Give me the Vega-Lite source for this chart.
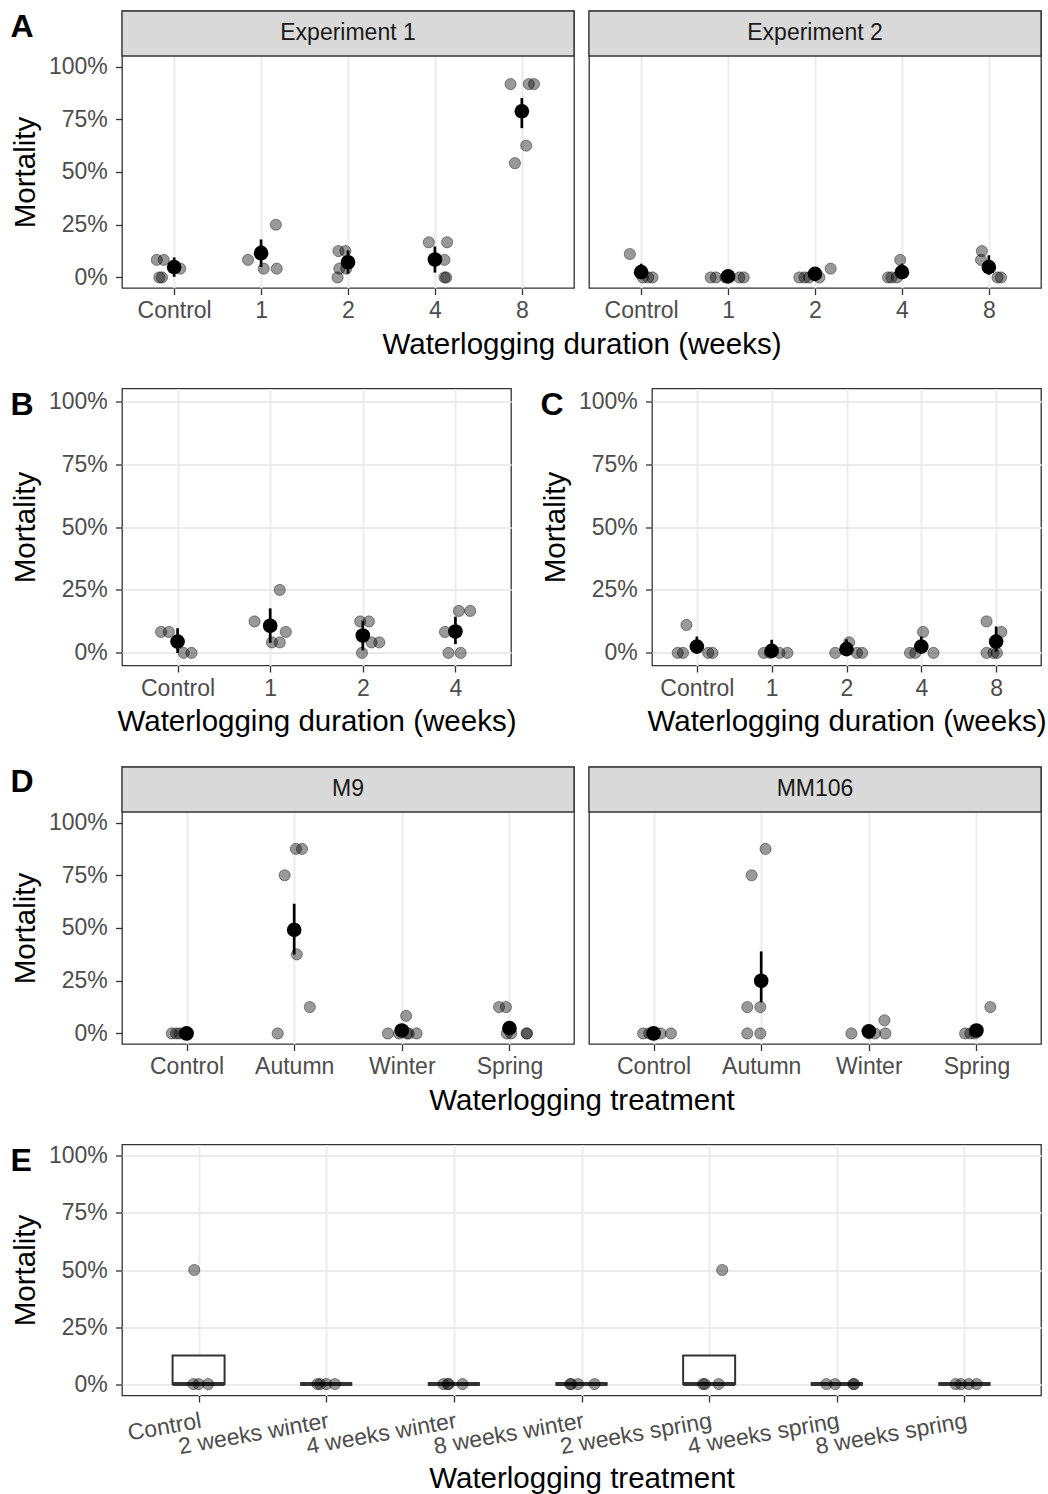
{
"$schema": "https://vega.github.io/schema/vega-lite/v6.json",
"background": "white",
"padding": {"left": 9, "top": 9, "right": 5, "bottom": 0},
"spacing": 26.5,
"datasets": {
"a_pts": [
{"exp":"Experiment 1","dur":"Control","jit":-0.20,"mort":8.33},
{"exp":"Experiment 1","dur":"Control","jit":-0.12,"mort":8.33},
{"exp":"Experiment 1","dur":"Control","jit":-0.17,"mort":0},
{"exp":"Experiment 1","dur":"Control","jit":-0.14,"mort":0},
{"exp":"Experiment 1","dur":"Control","jit":0.07,"mort":4.17},
{"exp":"Experiment 1","dur":"1","jit":-0.15,"mort":8.33},
{"exp":"Experiment 1","dur":"1","jit":0.0,"mort":12.5},
{"exp":"Experiment 1","dur":"1","jit":0.17,"mort":25},
{"exp":"Experiment 1","dur":"1","jit":0.03,"mort":4.17},
{"exp":"Experiment 1","dur":"1","jit":0.18,"mort":4.17},
{"exp":"Experiment 1","dur":"2","jit":-0.11,"mort":12.5},
{"exp":"Experiment 1","dur":"2","jit":-0.03,"mort":12.5},
{"exp":"Experiment 1","dur":"2","jit":-0.10,"mort":4.17},
{"exp":"Experiment 1","dur":"2","jit":-0.02,"mort":4.17},
{"exp":"Experiment 1","dur":"2","jit":-0.12,"mort":0},
{"exp":"Experiment 1","dur":"4","jit":-0.07,"mort":16.67},
{"exp":"Experiment 1","dur":"4","jit":0.14,"mort":16.67},
{"exp":"Experiment 1","dur":"4","jit":0.11,"mort":8.33},
{"exp":"Experiment 1","dur":"4","jit":0.11,"mort":0},
{"exp":"Experiment 1","dur":"4","jit":0.13,"mort":0},
{"exp":"Experiment 1","dur":"8","jit":-0.13,"mort":91.67},
{"exp":"Experiment 1","dur":"8","jit":0.08,"mort":91.67},
{"exp":"Experiment 1","dur":"8","jit":0.14,"mort":91.67},
{"exp":"Experiment 1","dur":"8","jit":0.05,"mort":62.5},
{"exp":"Experiment 1","dur":"8","jit":-0.08,"mort":54.17},
{"exp":"Experiment 2","dur":"Control","jit":-0.13,"mort":11.11},
{"exp":"Experiment 2","dur":"Control","jit":0.02,"mort":0},
{"exp":"Experiment 2","dur":"Control","jit":0.08,"mort":0},
{"exp":"Experiment 2","dur":"Control","jit":0.13,"mort":0},
{"exp":"Experiment 2","dur":"1","jit":-0.20,"mort":0},
{"exp":"Experiment 2","dur":"1","jit":-0.14,"mort":0},
{"exp":"Experiment 2","dur":"1","jit":-0.03,"mort":0},
{"exp":"Experiment 2","dur":"1","jit":0.13,"mort":0},
{"exp":"Experiment 2","dur":"1","jit":0.18,"mort":0},
{"exp":"Experiment 2","dur":"2","jit":-0.18,"mort":0},
{"exp":"Experiment 2","dur":"2","jit":-0.12,"mort":0},
{"exp":"Experiment 2","dur":"2","jit":-0.07,"mort":0},
{"exp":"Experiment 2","dur":"2","jit":0.05,"mort":0},
{"exp":"Experiment 2","dur":"2","jit":0.18,"mort":4.17},
{"exp":"Experiment 2","dur":"4","jit":-0.16,"mort":0},
{"exp":"Experiment 2","dur":"4","jit":-0.12,"mort":0},
{"exp":"Experiment 2","dur":"4","jit":-0.06,"mort":0},
{"exp":"Experiment 2","dur":"4","jit":-0.02,"mort":8.33},
{"exp":"Experiment 2","dur":"8","jit":-0.08,"mort":12.5},
{"exp":"Experiment 2","dur":"8","jit":-0.09,"mort":8.33},
{"exp":"Experiment 2","dur":"8","jit":0.10,"mort":0},
{"exp":"Experiment 2","dur":"8","jit":0.14,"mort":0}
],
"a_sum": [
{"exp":"Experiment 1","dur":"Control","mean":4.9,"lo":0.3,"hi":9.5},
{"exp":"Experiment 1","dur":"1","mean":11.5,"lo":5,"hi":18},
{"exp":"Experiment 1","dur":"2","mean":7.2,"lo":1.8,"hi":12.8},
{"exp":"Experiment 1","dur":"4","mean":8.5,"lo":2.3,"hi":14.7},
{"exp":"Experiment 1","dur":"8","mean":78.8,"lo":70.8,"hi":85.1},
{"exp":"Experiment 2","dur":"Control","mean":2.5,"lo":0,"hi":6.5},
{"exp":"Experiment 2","dur":"1","mean":0.5,"lo":0,"hi":1.5},
{"exp":"Experiment 2","dur":"2","mean":1.7,"lo":0,"hi":4.5},
{"exp":"Experiment 2","dur":"4","mean":2.5,"lo":0,"hi":6.5},
{"exp":"Experiment 2","dur":"8","mean":4.9,"lo":1.3,"hi":10.5}
],
"b_pts": [
{"dur":"Control","jit":-0.19,"mort":8.33},
{"dur":"Control","jit":-0.10,"mort":8.33},
{"dur":"Control","jit":0.07,"mort":0},
{"dur":"Control","jit":0.16,"mort":0},
{"dur":"1","jit":-0.18,"mort":12.5},
{"dur":"1","jit":0.11,"mort":25},
{"dur":"1","jit":0.18,"mort":8.33},
{"dur":"1","jit":0.02,"mort":4.17},
{"dur":"1","jit":0.11,"mort":4.17},
{"dur":"2","jit":-0.03,"mort":12.5},
{"dur":"2","jit":0.07,"mort":12.5},
{"dur":"2","jit":0.10,"mort":4.17},
{"dur":"2","jit":0.19,"mort":4.17},
{"dur":"2","jit":-0.01,"mort":0},
{"dur":"4","jit":-0.12,"mort":8.33},
{"dur":"4","jit":0.04,"mort":16.67},
{"dur":"4","jit":0.17,"mort":16.67},
{"dur":"4","jit":-0.08,"mort":0},
{"dur":"4","jit":0.06,"mort":0}
],
"b_sum": [
{"dur":"Control","mean":4.5,"lo":0,"hi":9.8},
{"dur":"1","mean":10.8,"lo":4,"hi":17.7},
{"dur":"2","mean":6.9,"lo":1,"hi":12.8},
{"dur":"4","mean":8.5,"lo":3.5,"hi":14.4}
],
"c_pts": [
{"dur":"Control","jit":-0.12,"mort":11.11},
{"dur":"Control","jit":-0.22,"mort":0},
{"dur":"Control","jit":-0.16,"mort":0},
{"dur":"Control","jit":0.13,"mort":0},
{"dur":"Control","jit":0.18,"mort":0},
{"dur":"1","jit":-0.09,"mort":0},
{"dur":"1","jit":-0.02,"mort":0},
{"dur":"1","jit":0.09,"mort":0},
{"dur":"1","jit":0.18,"mort":0},
{"dur":"2","jit":0.03,"mort":4.17},
{"dur":"2","jit":-0.13,"mort":0},
{"dur":"2","jit":0.12,"mort":0},
{"dur":"2","jit":0.18,"mort":0},
{"dur":"4","jit":0.02,"mort":8.33},
{"dur":"4","jit":-0.13,"mort":0},
{"dur":"4","jit":-0.07,"mort":0},
{"dur":"4","jit":0.14,"mort":0},
{"dur":"8","jit":-0.11,"mort":12.5},
{"dur":"8","jit":0.06,"mort":8.33},
{"dur":"8","jit":-0.11,"mort":0},
{"dur":"8","jit":-0.03,"mort":0},
{"dur":"8","jit":0.01,"mort":0}
],
"c_sum": [
{"dur":"Control","mean":2.5,"lo":0,"hi":6.5},
{"dur":"1","mean":0.8,"lo":0,"hi":5.2},
{"dur":"2","mean":1.5,"lo":0,"hi":5.4},
{"dur":"4","mean":2.5,"lo":0,"hi":6.5},
{"dur":"8","mean":4.5,"lo":0.5,"hi":10.5}
],
"d_pts": [
{"root":"M9","trt":"Control","jit":-0.17,"mort":0},
{"root":"M9","trt":"Control","jit":-0.12,"mort":0},
{"root":"M9","trt":"Control","jit":-0.08,"mort":0},
{"root":"M9","trt":"Control","jit":-0.03,"mort":0},
{"root":"M9","trt":"Control","jit":0.0,"mort":0},
{"root":"M9","trt":"Autumn","jit":0.02,"mort":87.5},
{"root":"M9","trt":"Autumn","jit":0.09,"mort":87.5},
{"root":"M9","trt":"Autumn","jit":-0.11,"mort":75},
{"root":"M9","trt":"Autumn","jit":0.03,"mort":37.5},
{"root":"M9","trt":"Autumn","jit":0.18,"mort":12.5},
{"root":"M9","trt":"Autumn","jit":-0.19,"mort":0},
{"root":"M9","trt":"Winter","jit":-0.16,"mort":0},
{"root":"M9","trt":"Winter","jit":0.05,"mort":8.33},
{"root":"M9","trt":"Winter","jit":-0.03,"mort":0},
{"root":"M9","trt":"Winter","jit":0.06,"mort":0},
{"root":"M9","trt":"Winter","jit":0.08,"mort":0},
{"root":"M9","trt":"Winter","jit":0.17,"mort":0},
{"root":"M9","trt":"Spring","jit":-0.12,"mort":12.5},
{"root":"M9","trt":"Spring","jit":-0.04,"mort":12.5},
{"root":"M9","trt":"Spring","jit":-0.03,"mort":0},
{"root":"M9","trt":"Spring","jit":0.02,"mort":0},
{"root":"M9","trt":"Spring","jit":0.20,"mort":0},
{"root":"M9","trt":"Spring","jit":0.20,"mort":0},
{"root":"MM106","trt":"Control","jit":-0.12,"mort":0},
{"root":"MM106","trt":"Control","jit":-0.05,"mort":0},
{"root":"MM106","trt":"Control","jit":0.0,"mort":0},
{"root":"MM106","trt":"Control","jit":0.08,"mort":0},
{"root":"MM106","trt":"Control","jit":0.20,"mort":0},
{"root":"MM106","trt":"Autumn","jit":0.05,"mort":87.5},
{"root":"MM106","trt":"Autumn","jit":-0.11,"mort":75},
{"root":"MM106","trt":"Autumn","jit":-0.16,"mort":12.5},
{"root":"MM106","trt":"Autumn","jit":-0.01,"mort":12.5},
{"root":"MM106","trt":"Autumn","jit":-0.16,"mort":0},
{"root":"MM106","trt":"Autumn","jit":-0.01,"mort":0},
{"root":"MM106","trt":"Winter","jit":-0.20,"mort":0},
{"root":"MM106","trt":"Winter","jit":0.18,"mort":6.25},
{"root":"MM106","trt":"Winter","jit":0.0,"mort":0},
{"root":"MM106","trt":"Winter","jit":0.07,"mort":0},
{"root":"MM106","trt":"Winter","jit":0.19,"mort":0},
{"root":"MM106","trt":"Spring","jit":0.16,"mort":12.5},
{"root":"MM106","trt":"Spring","jit":-0.13,"mort":0},
{"root":"MM106","trt":"Spring","jit":-0.07,"mort":0},
{"root":"MM106","trt":"Spring","jit":-0.02,"mort":0}
],
"d_sum": [
{"root":"M9","trt":"Control","mean":0,"lo":0,"hi":0},
{"root":"M9","trt":"Autumn","mean":49.1,"lo":37.4,"hi":61.5},
{"root":"M9","trt":"Winter","mean":1.4,"lo":0,"hi":2.8},
{"root":"M9","trt":"Spring","mean":2.5,"lo":0,"hi":5},
{"root":"MM106","trt":"Control","mean":0,"lo":0,"hi":0},
{"root":"MM106","trt":"Autumn","mean":25,"lo":14.8,"hi":38.9},
{"root":"MM106","trt":"Winter","mean":1,"lo":0,"hi":2},
{"root":"MM106","trt":"Spring","mean":1.4,"lo":0,"hi":2.8}
],
"e_pts": [
{"trt":"Control","jit":-0.05,"mort":50},
{"trt":"Control","jit":-0.06,"mort":0},
{"trt":"Control","jit":0.0,"mort":0},
{"trt":"Control","jit":0.11,"mort":0},
{"trt":"2 weeks winter","jit":-0.10,"mort":0},
{"trt":"2 weeks winter","jit":-0.07,"mort":0},
{"trt":"2 weeks winter","jit":0.0,"mort":0},
{"trt":"2 weeks winter","jit":0.10,"mort":0},
{"trt":"4 weeks winter","jit":-0.12,"mort":0},
{"trt":"4 weeks winter","jit":-0.07,"mort":0},
{"trt":"4 weeks winter","jit":-0.06,"mort":0},
{"trt":"4 weeks winter","jit":0.10,"mort":0},
{"trt":"8 weeks winter","jit":-0.13,"mort":0},
{"trt":"8 weeks winter","jit":-0.12,"mort":0},
{"trt":"8 weeks winter","jit":-0.04,"mort":0},
{"trt":"8 weeks winter","jit":0.15,"mort":0},
{"trt":"2 weeks spring","jit":0.15,"mort":50},
{"trt":"2 weeks spring","jit":-0.07,"mort":0},
{"trt":"2 weeks spring","jit":-0.05,"mort":0},
{"trt":"2 weeks spring","jit":0.11,"mort":0},
{"trt":"4 weeks spring","jit":-0.12,"mort":0},
{"trt":"4 weeks spring","jit":-0.02,"mort":0},
{"trt":"4 weeks spring","jit":0.19,"mort":0},
{"trt":"4 weeks spring","jit":0.20,"mort":0},
{"trt":"8 weeks spring","jit":-0.10,"mort":0},
{"trt":"8 weeks spring","jit":-0.04,"mort":0},
{"trt":"8 weeks spring","jit":0.05,"mort":0},
{"trt":"8 weeks spring","jit":0.14,"mort":0}
],
"e_box": [
{"trt":"Control","q1":0,"med":0,"q3":12.5},
{"trt":"2 weeks winter","q1":0,"med":0,"q3":0},
{"trt":"4 weeks winter","q1":0,"med":0,"q3":0},
{"trt":"8 weeks winter","q1":0,"med":0,"q3":0},
{"trt":"2 weeks spring","q1":0,"med":0,"q3":12.5},
{"trt":"4 weeks spring","q1":0,"med":0,"q3":0},
{"trt":"8 weeks spring","q1":0,"med":0,"q3":0}
]
},
"vconcat": [
{"hconcat": [
 {"width": 452, "height": 277,
  "layer": [
   {"data": {"values": [{"label": "Experiment 1"}]},
    "layer": [
     {"mark": {"type": "rect", "fill": "#d9d9d9", "stroke": "#333333", "strokeWidth": 1.3},
      "encoding": {"x": {"datum": 0, "type": "quantitative", "scale": {"domain": [0, 1], "nice": false, "zero": false}, "axis": {"orient": "top", "labels": false, "ticks": false, "domain": false, "grid": false, "title": "A", "titleX": -112, "titleY": 25.5, "titleAlign": "left", "titleBaseline": "alphabetic", "titleAngle": 0, "titleFontSize": 32, "titleFontWeight": "bold", "titleColor": "#000000"}}, "x2": {"datum": 1}, "y": {"datum": 105, "type": "quantitative", "scale": {"domain": [-5, 126.336], "nice": false, "zero": false}}, "y2": {"datum": 126.336}}},
     {"mark": {"type": "text", "fontSize": 23, "color": "#1a1a1a", "align": "center", "baseline": "middle"},
      "encoding": {"x": {"datum": 0.5, "type": "quantitative", "scale": {"domain": [0, 1], "nice": false, "zero": false}}, "y": {"datum": 115.67, "type": "quantitative", "scale": {"domain": [-5, 126.336], "nice": false, "zero": false}}, "text": {"field": "label", "type": "nominal"}}}
    ]},
   {"layer": [
     {"data": {"name": "a_pts"}, "transform": [{"filter": "datum.exp === 'Experiment 1'"}],
      "mark": {"type": "circle", "size": 125, "fill": "#000000", "fillOpacity": 0.4, "stroke": "#000000", "strokeOpacity": 0.4, "strokeWidth": 1},
      "encoding": {
       "x": {"field": "dur", "type": "nominal", "scale": {"type": "point", "domain": ["Control", "1", "2", "4", "8"], "padding": 0.6}, "axis": {"title": "Waterlogging duration (weeks)", "titleX": 459.5, "grid": true, "gridWidth": 2, "labelAngle": 0}},
       "xOffset": {"field": "jit", "type": "quantitative", "scale": {"domain": [-0.5, 0.5], "range": [-43.46, 43.46]}},
       "y": {"field": "mort", "type": "quantitative", "scale": {"domain": [-5, 126.336], "nice": false, "zero": false}, "axis": {"values": [0, 12.5, 25, 37.5, 50, 62.5, 75, 87.5, 100], "title": "Mortality", "titleY": 161, "labelExpr": "datum.value % 25 === 0 ? datum.value + '%' : ''", "gridWidth": {"condition": {"test": "datum.value % 25 === 0", "value": 2}, "value": 1.1}, "tickOpacity": {"condition": {"test": "datum.value % 25 === 0", "value": 1}, "value": 0}}}}},
     {"data": {"name": "a_sum"}, "transform": [{"filter": "datum.exp === 'Experiment 1'"}],
      "mark": {"type": "rule", "color": "#000000", "strokeWidth": 2.7},
      "encoding": {"x": {"field": "dur", "type": "nominal", "scale": {"type": "point", "domain": ["Control", "1", "2", "4", "8"], "padding": 0.6}}, "y": {"field": "lo", "type": "quantitative", "scale": {"domain": [-5, 126.336], "nice": false, "zero": false}}, "y2": {"field": "hi"}}},
     {"data": {"name": "a_sum"}, "transform": [{"filter": "datum.exp === 'Experiment 1'"}],
      "mark": {"type": "circle", "size": 215, "fill": "#000000", "opacity": 1},
      "encoding": {"x": {"field": "dur", "type": "nominal", "scale": {"type": "point", "domain": ["Control", "1", "2", "4", "8"], "padding": 0.6}}, "y": {"field": "mean", "type": "quantitative", "scale": {"domain": [-5, 126.336], "nice": false, "zero": false}}}}
   ]}
  ],
  "resolve": {"scale": {"x": "independent"}}},
 {"width": 452, "height": 277,
  "layer": [
   {"data": {"values": [{"label": "Experiment 2"}]},
    "layer": [
     {"mark": {"type": "rect", "fill": "#d9d9d9", "stroke": "#333333", "strokeWidth": 1.3},
      "encoding": {"x": {"datum": 0, "type": "quantitative", "scale": {"domain": [0, 1], "nice": false, "zero": false}, "axis": null}, "x2": {"datum": 1}, "y": {"datum": 105, "type": "quantitative", "scale": {"domain": [-5, 126.336], "nice": false, "zero": false}}, "y2": {"datum": 126.336}}},
     {"mark": {"type": "text", "fontSize": 23, "color": "#1a1a1a", "align": "center", "baseline": "middle"},
      "encoding": {"x": {"datum": 0.5, "type": "quantitative", "scale": {"domain": [0, 1], "nice": false, "zero": false}, "axis": null}, "y": {"datum": 115.67, "type": "quantitative", "scale": {"domain": [-5, 126.336], "nice": false, "zero": false}}, "text": {"field": "label", "type": "nominal"}}}
    ]},
   {"layer": [
     {"data": {"name": "a_pts"}, "transform": [{"filter": "datum.exp === 'Experiment 2'"}],
      "mark": {"type": "circle", "size": 125, "fill": "#000000", "fillOpacity": 0.4, "stroke": "#000000", "strokeOpacity": 0.4, "strokeWidth": 1},
      "encoding": {
       "x": {"field": "dur", "type": "nominal", "scale": {"type": "point", "domain": ["Control", "1", "2", "4", "8"], "padding": 0.6}, "axis": {"title": null, "grid": true, "gridWidth": 2, "labelAngle": 0}},
       "xOffset": {"field": "jit", "type": "quantitative", "scale": {"domain": [-0.5, 0.5], "range": [-43.46, 43.46]}},
       "y": {"field": "mort", "type": "quantitative", "scale": {"domain": [-5, 126.336], "nice": false, "zero": false}, "axis": {"values": [0, 12.5, 25, 37.5, 50, 62.5, 75, 87.5, 100], "title": null, "labels": false, "ticks": false, "gridWidth": {"condition": {"test": "datum.value % 25 === 0", "value": 2}, "value": 1.1}}}}},
     {"data": {"name": "a_sum"}, "transform": [{"filter": "datum.exp === 'Experiment 2'"}],
      "mark": {"type": "rule", "color": "#000000", "strokeWidth": 2.7},
      "encoding": {"x": {"field": "dur", "type": "nominal", "scale": {"type": "point", "domain": ["Control", "1", "2", "4", "8"], "padding": 0.6}}, "y": {"field": "lo", "type": "quantitative", "scale": {"domain": [-5, 126.336], "nice": false, "zero": false}}, "y2": {"field": "hi"}}},
     {"data": {"name": "a_sum"}, "transform": [{"filter": "datum.exp === 'Experiment 2'"}],
      "mark": {"type": "circle", "size": 215, "fill": "#000000", "opacity": 1},
      "encoding": {"x": {"field": "dur", "type": "nominal", "scale": {"type": "point", "domain": ["Control", "1", "2", "4", "8"], "padding": 0.6}}, "y": {"field": "mean", "type": "quantitative", "scale": {"domain": [-5, 126.336], "nice": false, "zero": false}}}}
   ]}
  ],
  "resolve": {"scale": {"x": "independent"}}}
 ], "spacing": 15, "bounds": "flush"},
{"hconcat": [
 {"width": 389, "height": 277,
  "layer": [
   {"data": {"values": [{"label": "B"}]},
    "mark": {"type": "rule", "opacity": 0},
    "encoding": {"x": {"datum": 0, "type": "quantitative", "scale": {"domain": [0, 1], "nice": false, "zero": false}, "axis": {"orient": "top", "labels": false, "ticks": false, "domain": false, "grid": false, "title": "B", "titleX": -112, "titleY": 25.6, "titleAlign": "left", "titleBaseline": "alphabetic", "titleAngle": 0, "titleFontSize": 32, "titleFontWeight": "bold", "titleColor": "#000000"}}}},
   {"layer": [
   {"data": {"name": "b_pts"},
    "mark": {"type": "circle", "size": 125, "fill": "#000000", "fillOpacity": 0.4, "stroke": "#000000", "strokeOpacity": 0.4, "strokeWidth": 1},
    "encoding": {
     "x": {"field": "dur", "type": "nominal", "scale": {"type": "point", "domain": ["Control", "1", "2", "4"], "padding": 0.6}, "axis": {"title": "Waterlogging duration (weeks)", "grid": true, "gridWidth": 2, "labelAngle": 0}},
     "xOffset": {"field": "jit", "type": "quantitative", "scale": {"domain": [-0.5, 0.5], "range": [-46.31, 46.31]}},
     "y": {"field": "mort", "type": "quantitative", "scale": {"domain": [-5, 105], "nice": false, "zero": false}, "axis": {"values": [0, 12.5, 25, 37.5, 50, 62.5, 75, 87.5, 100], "title": "Mortality", "labelExpr": "datum.value % 25 === 0 ? datum.value + '%' : ''", "gridWidth": {"condition": {"test": "datum.value % 25 === 0", "value": 2}, "value": 1.1}, "tickOpacity": {"condition": {"test": "datum.value % 25 === 0", "value": 1}, "value": 0}}}}},
   {"data": {"name": "b_sum"},
    "mark": {"type": "rule", "color": "#000000", "strokeWidth": 2.7},
    "encoding": {"x": {"field": "dur", "type": "nominal", "scale": {"type": "point", "domain": ["Control", "1", "2", "4"], "padding": 0.6}}, "y": {"field": "lo", "type": "quantitative", "scale": {"domain": [-5, 105], "nice": false, "zero": false}}, "y2": {"field": "hi"}}},
   {"data": {"name": "b_sum"},
    "mark": {"type": "circle", "size": 215, "fill": "#000000", "opacity": 1},
    "encoding": {"x": {"field": "dur", "type": "nominal", "scale": {"type": "point", "domain": ["Control", "1", "2", "4"], "padding": 0.6}}, "y": {"field": "mean", "type": "quantitative", "scale": {"domain": [-5, 105], "nice": false, "zero": false}}}}
   ]}
  ],
  "resolve": {"scale": {"x": "independent"}}},
 {"width": 389, "height": 277,
  "layer": [
   {"data": {"values": [{"label": "C"}]},
    "mark": {"type": "rule", "opacity": 0},
    "encoding": {"x": {"datum": 0, "type": "quantitative", "scale": {"domain": [0, 1], "nice": false, "zero": false}, "axis": {"orient": "top", "labels": false, "ticks": false, "domain": false, "grid": false, "title": "C", "titleX": -112, "titleY": 25.6, "titleAlign": "left", "titleBaseline": "alphabetic", "titleAngle": 0, "titleFontSize": 32, "titleFontWeight": "bold", "titleColor": "#000000"}}}},
   {"layer": [
   {"data": {"name": "c_pts"},
    "mark": {"type": "circle", "size": 125, "fill": "#000000", "fillOpacity": 0.4, "stroke": "#000000", "strokeOpacity": 0.4, "strokeWidth": 1},
    "encoding": {
     "x": {"field": "dur", "type": "nominal", "scale": {"type": "point", "domain": ["Control", "1", "2", "4", "8"], "padding": 0.6}, "axis": {"title": "Waterlogging duration (weeks)", "grid": true, "gridWidth": 2, "labelAngle": 0}},
     "xOffset": {"field": "jit", "type": "quantitative", "scale": {"domain": [-0.5, 0.5], "range": [-37.4, 37.4]}},
     "y": {"field": "mort", "type": "quantitative", "scale": {"domain": [-5, 105], "nice": false, "zero": false}, "axis": {"values": [0, 12.5, 25, 37.5, 50, 62.5, 75, 87.5, 100], "title": "Mortality", "labelExpr": "datum.value % 25 === 0 ? datum.value + '%' : ''", "gridWidth": {"condition": {"test": "datum.value % 25 === 0", "value": 2}, "value": 1.1}, "tickOpacity": {"condition": {"test": "datum.value % 25 === 0", "value": 1}, "value": 0}}}}},
   {"data": {"name": "c_sum"},
    "mark": {"type": "rule", "color": "#000000", "strokeWidth": 2.7},
    "encoding": {"x": {"field": "dur", "type": "nominal", "scale": {"type": "point", "domain": ["Control", "1", "2", "4", "8"], "padding": 0.6}}, "y": {"field": "lo", "type": "quantitative", "scale": {"domain": [-5, 105], "nice": false, "zero": false}}, "y2": {"field": "hi"}}},
   {"data": {"name": "c_sum"},
    "mark": {"type": "circle", "size": 215, "fill": "#000000", "opacity": 1},
    "encoding": {"x": {"field": "dur", "type": "nominal", "scale": {"type": "point", "domain": ["Control", "1", "2", "4", "8"], "padding": 0.6}}, "y": {"field": "mean", "type": "quantitative", "scale": {"domain": [-5, 105], "nice": false, "zero": false}}}}
   ]}
  ],
  "resolve": {"scale": {"x": "independent"}}}
 ], "spacing": 141, "bounds": "flush"},
{"hconcat": [
 {"width": 452, "height": 277,
  "layer": [
   {"data": {"values": [{"label": "M9"}]},
    "layer": [
     {"mark": {"type": "rect", "fill": "#d9d9d9", "stroke": "#333333", "strokeWidth": 1.3},
      "encoding": {"x": {"datum": 0, "type": "quantitative", "scale": {"domain": [0, 1], "nice": false, "zero": false}, "axis": {"orient": "top", "labels": false, "ticks": false, "domain": false, "grid": false, "title": "D", "titleX": -112, "titleY": 24.5, "titleAlign": "left", "titleBaseline": "alphabetic", "titleAngle": 0, "titleFontSize": 32, "titleFontWeight": "bold", "titleColor": "#000000"}}, "x2": {"datum": 1}, "y": {"datum": 105, "type": "quantitative", "scale": {"domain": [-5, 126.336], "nice": false, "zero": false}}, "y2": {"datum": 126.336}}},
     {"mark": {"type": "text", "fontSize": 23, "color": "#1a1a1a", "align": "center", "baseline": "middle"},
      "encoding": {"x": {"datum": 0.5, "type": "quantitative", "scale": {"domain": [0, 1], "nice": false, "zero": false}}, "y": {"datum": 115.67, "type": "quantitative", "scale": {"domain": [-5, 126.336], "nice": false, "zero": false}}, "text": {"field": "label", "type": "nominal"}}}
    ]},
   {"layer": [
     {"data": {"name": "d_pts"}, "transform": [{"filter": "datum.root === 'M9'"}],
      "mark": {"type": "circle", "size": 125, "fill": "#000000", "fillOpacity": 0.4, "stroke": "#000000", "strokeOpacity": 0.4, "strokeWidth": 1},
      "encoding": {
       "x": {"field": "trt", "type": "nominal", "scale": {"type": "point", "domain": ["Control", "Autumn", "Winter", "Spring"], "padding": 0.6}, "axis": {"title": "Waterlogging treatment", "titleX": 459.5, "grid": true, "gridWidth": 2, "labelAngle": 0}},
       "xOffset": {"field": "jit", "type": "quantitative", "scale": {"domain": [-0.5, 0.5], "range": [-53.81, 53.81]}},
       "y": {"field": "mort", "type": "quantitative", "scale": {"domain": [-5, 126.336], "nice": false, "zero": false}, "axis": {"values": [0, 12.5, 25, 37.5, 50, 62.5, 75, 87.5, 100], "title": "Mortality", "titleY": 161, "labelExpr": "datum.value % 25 === 0 ? datum.value + '%' : ''", "gridWidth": {"condition": {"test": "datum.value % 25 === 0", "value": 2}, "value": 1.1}, "tickOpacity": {"condition": {"test": "datum.value % 25 === 0", "value": 1}, "value": 0}}}}},
     {"data": {"name": "d_sum"}, "transform": [{"filter": "datum.root === 'M9'"}],
      "mark": {"type": "rule", "color": "#000000", "strokeWidth": 2.7},
      "encoding": {"x": {"field": "trt", "type": "nominal", "scale": {"type": "point", "domain": ["Control", "Autumn", "Winter", "Spring"], "padding": 0.6}}, "y": {"field": "lo", "type": "quantitative", "scale": {"domain": [-5, 126.336], "nice": false, "zero": false}}, "y2": {"field": "hi"}}},
     {"data": {"name": "d_sum"}, "transform": [{"filter": "datum.root === 'M9'"}],
      "mark": {"type": "circle", "size": 215, "fill": "#000000", "opacity": 1},
      "encoding": {"x": {"field": "trt", "type": "nominal", "scale": {"type": "point", "domain": ["Control", "Autumn", "Winter", "Spring"], "padding": 0.6}}, "y": {"field": "mean", "type": "quantitative", "scale": {"domain": [-5, 126.336], "nice": false, "zero": false}}}}
   ]}
  ],
  "resolve": {"scale": {"x": "independent"}}},
 {"width": 452, "height": 277,
  "layer": [
   {"data": {"values": [{"label": "MM106"}]},
    "layer": [
     {"mark": {"type": "rect", "fill": "#d9d9d9", "stroke": "#333333", "strokeWidth": 1.3},
      "encoding": {"x": {"datum": 0, "type": "quantitative", "scale": {"domain": [0, 1], "nice": false, "zero": false}, "axis": null}, "x2": {"datum": 1}, "y": {"datum": 105, "type": "quantitative", "scale": {"domain": [-5, 126.336], "nice": false, "zero": false}}, "y2": {"datum": 126.336}}},
     {"mark": {"type": "text", "fontSize": 23, "color": "#1a1a1a", "align": "center", "baseline": "middle"},
      "encoding": {"x": {"datum": 0.5, "type": "quantitative", "scale": {"domain": [0, 1], "nice": false, "zero": false}, "axis": null}, "y": {"datum": 115.67, "type": "quantitative", "scale": {"domain": [-5, 126.336], "nice": false, "zero": false}}, "text": {"field": "label", "type": "nominal"}}}
    ]},
   {"layer": [
     {"data": {"name": "d_pts"}, "transform": [{"filter": "datum.root === 'MM106'"}],
      "mark": {"type": "circle", "size": 125, "fill": "#000000", "fillOpacity": 0.4, "stroke": "#000000", "strokeOpacity": 0.4, "strokeWidth": 1},
      "encoding": {
       "x": {"field": "trt", "type": "nominal", "scale": {"type": "point", "domain": ["Control", "Autumn", "Winter", "Spring"], "padding": 0.6}, "axis": {"title": null, "grid": true, "gridWidth": 2, "labelAngle": 0}},
       "xOffset": {"field": "jit", "type": "quantitative", "scale": {"domain": [-0.5, 0.5], "range": [-53.81, 53.81]}},
       "y": {"field": "mort", "type": "quantitative", "scale": {"domain": [-5, 126.336], "nice": false, "zero": false}, "axis": {"values": [0, 12.5, 25, 37.5, 50, 62.5, 75, 87.5, 100], "title": null, "labels": false, "ticks": false, "gridWidth": {"condition": {"test": "datum.value % 25 === 0", "value": 2}, "value": 1.1}}}}},
     {"data": {"name": "d_sum"}, "transform": [{"filter": "datum.root === 'MM106'"}],
      "mark": {"type": "rule", "color": "#000000", "strokeWidth": 2.7},
      "encoding": {"x": {"field": "trt", "type": "nominal", "scale": {"type": "point", "domain": ["Control", "Autumn", "Winter", "Spring"], "padding": 0.6}}, "y": {"field": "lo", "type": "quantitative", "scale": {"domain": [-5, 126.336], "nice": false, "zero": false}}, "y2": {"field": "hi"}}},
     {"data": {"name": "d_sum"}, "transform": [{"filter": "datum.root === 'MM106'"}],
      "mark": {"type": "circle", "size": 215, "fill": "#000000", "opacity": 1},
      "encoding": {"x": {"field": "trt", "type": "nominal", "scale": {"type": "point", "domain": ["Control", "Autumn", "Winter", "Spring"], "padding": 0.6}}, "y": {"field": "mean", "type": "quantitative", "scale": {"domain": [-5, 126.336], "nice": false, "zero": false}}}}
   ]}
  ],
  "resolve": {"scale": {"x": "independent"}}}
 ], "spacing": 15, "bounds": "flush"},
{"width": 919, "height": 251,
 "layer": [
  {"data": {"values": [{"label": "E"}]},
   "mark": {"type": "rule", "opacity": 0},
   "encoding": {"x": {"datum": 0, "type": "quantitative", "scale": {"domain": [0, 1], "nice": false, "zero": false}, "axis": {"orient": "top", "labels": false, "ticks": false, "domain": false, "grid": false, "title": "E", "titleX": -112, "titleY": 25.5, "titleAlign": "left", "titleBaseline": "alphabetic", "titleAngle": 0, "titleFontSize": 32, "titleFontWeight": "bold", "titleColor": "#000000"}}}},
  {"layer": [
  {"data": {"name": "e_box"},
   "mark": {"type": "bar", "fill": "#ffffff", "stroke": "#333333", "strokeWidth": 2, "width": 52},
   "encoding": {
    "x": {"field": "trt", "type": "nominal", "scale": {"type": "point", "domain": ["Control", "2 weeks winter", "4 weeks winter", "8 weeks winter", "2 weeks spring", "4 weeks spring", "8 weeks spring"], "padding": 0.6}, "axis": {"title": "Waterlogging treatment", "grid": true, "gridWidth": 2, "labelAngle": -10, "labelAlign": "right", "labelBaseline": "top", "labelPadding": 7.5, "titlePadding": 6}},
    "y": {"field": "q1", "type": "quantitative", "scale": {"domain": [-5, 105], "nice": false, "zero": false}, "axis": {"values": [0, 12.5, 25, 37.5, 50, 62.5, 75, 87.5, 100], "title": "Mortality", "labelExpr": "datum.value % 25 === 0 ? datum.value + '%' : ''", "gridWidth": {"condition": {"test": "datum.value % 25 === 0", "value": 2}, "value": 1.1}, "tickOpacity": {"condition": {"test": "datum.value % 25 === 0", "value": 1}, "value": 0}}},
    "y2": {"field": "q3"}}},
  {"data": {"name": "e_box"},
   "mark": {"type": "tick", "color": "#333333", "size": 52, "thickness": 4, "opacity": 1},
   "encoding": {
    "x": {"field": "trt", "type": "nominal", "scale": {"type": "point", "domain": ["Control", "2 weeks winter", "4 weeks winter", "8 weeks winter", "2 weeks spring", "4 weeks spring", "8 weeks spring"], "padding": 0.6}},
    "y": {"field": "med", "type": "quantitative", "scale": {"domain": [-5, 105], "nice": false, "zero": false}}}},
  {"data": {"name": "e_pts"},
   "mark": {"type": "circle", "size": 125, "fill": "#000000", "fillOpacity": 0.4, "stroke": "#000000", "strokeOpacity": 0.4, "strokeWidth": 1},
   "encoding": {
    "x": {"field": "trt", "type": "nominal", "scale": {"type": "point", "domain": ["Control", "2 weeks winter", "4 weeks winter", "8 weeks winter", "2 weeks spring", "4 weeks spring", "8 weeks spring"], "padding": 0.6}},
    "xOffset": {"field": "jit", "type": "quantitative", "scale": {"domain": [-0.5, 0.5], "range": [-63.82, 63.82]}},
    "y": {"field": "mort", "type": "quantitative", "scale": {"domain": [-5, 105], "nice": false, "zero": false}}}}
  ]}
 ],
 "resolve": {"scale": {"x": "independent"}}}
],
"config": {
 "font": "Liberation Sans",
 "view": {"stroke": "#333333", "strokeWidth": 1.3, "fill": "#ffffff"},
 "title": {"font": "Liberation Sans"},
 "axis": {"labelFont": "Liberation Sans", "labelFontSize": 23, "labelColor": "#4d4d4d", "titleFont": "Liberation Sans", "titleFontSize": 29.5, "titleFontWeight": "normal", "titleColor": "#000000", "tickColor": "#333333", "tickSize": 6.5, "tickWidth": 1.3, "domain": false, "gridColor": "#ebebeb", "labelOverlap": false, "labelFlush": false},
 "axisX": {"labelPadding": 5.3, "titlePadding": 7.5},
 "axisY": {"labelPadding": 8.2, "titlePadding": 7.8}
}
}
